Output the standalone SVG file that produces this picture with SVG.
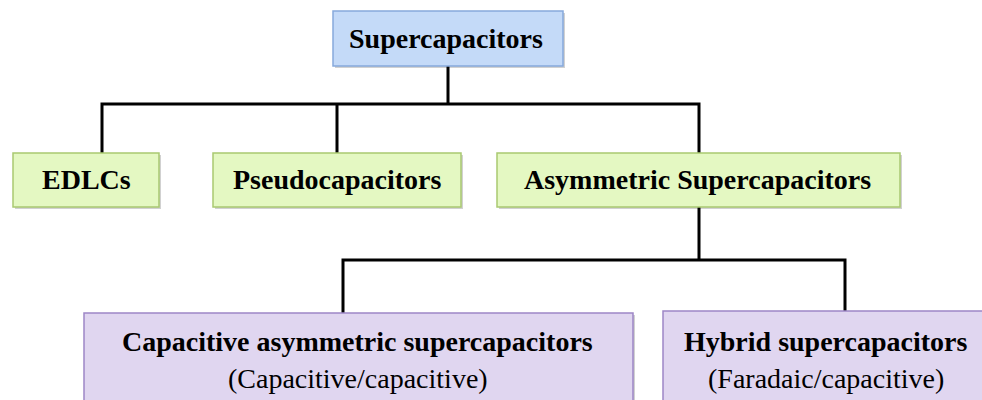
<svg xmlns="http://www.w3.org/2000/svg" width="982" height="400" viewBox="0 0 982 400">
<rect width="982" height="400" fill="#fff"/>
<g id="connectors" fill="none" stroke="#000" stroke-width="3">
<path d="M448 66 V104 M102 153 V104 H699 V153 M337 104 V153"/>
<path d="M699 207 V260 M343 313 V260 H845 V311"/>
</g>
<g id="shadows" fill="#000" fill-opacity="0.18">
<rect x="335" y="13" width="230" height="55"/>
<rect x="15" y="155" width="146" height="54"/>
<rect x="215" y="155" width="248" height="54"/>
<rect x="499" y="155" width="403" height="54"/>
<rect x="86" y="315" width="549" height="100"/>
<rect x="665" y="313" width="340" height="100"/>
</g>
<g id="supercapacitors"><rect fill="#c4daf8" stroke="#86a9dc" stroke-width="1.5" x="333" y="11" width="230" height="55"/><text font-family="Liberation Serif" font-weight="bold" font-size="28" x="349" y="48">Supercapacitors</text></g>
<g id="edlcs"><rect fill="#e4f8c2" stroke="#a9c970" stroke-width="1.5" x="13" y="153" width="146" height="54"/><text font-family="Liberation Serif" font-weight="bold" font-size="28" x="42" y="189">EDLCs</text></g>
<g id="pseudocapacitors"><rect fill="#e4f8c2" stroke="#a9c970" stroke-width="1.5" x="213" y="153" width="248" height="54"/><text font-family="Liberation Serif" font-weight="bold" font-size="28" x="233" y="189">Pseudocapacitors</text></g>
<g id="asymmetric"><rect fill="#e4f8c2" stroke="#a9c970" stroke-width="1.5" x="497" y="153" width="403" height="54"/><text font-family="Liberation Serif" font-weight="bold" font-size="28" x="524" y="189">Asymmetric Supercapacitors</text></g>
<g id="capacitive"><rect fill="#e0d6f0" stroke="#9d86c6" stroke-width="1.5" x="84" y="313" width="549" height="100"/><text font-family="Liberation Serif" font-weight="bold" font-size="28" x="122" y="351">Capacitive asymmetric supercapacitors</text><text font-family="Liberation Serif" font-size="28" x="228" y="388">(Capacitive/capacitive)</text></g>
<g id="hybrid"><rect fill="#e0d6f0" stroke="#9d86c6" stroke-width="1.5" x="663" y="311" width="340" height="100"/><text font-family="Liberation Serif" font-weight="bold" font-size="28" x="684" y="351">Hybrid supercapacitors</text><text font-family="Liberation Serif" font-size="28" x="708" y="388">(Faradaic/capacitive)</text></g>
</svg>
